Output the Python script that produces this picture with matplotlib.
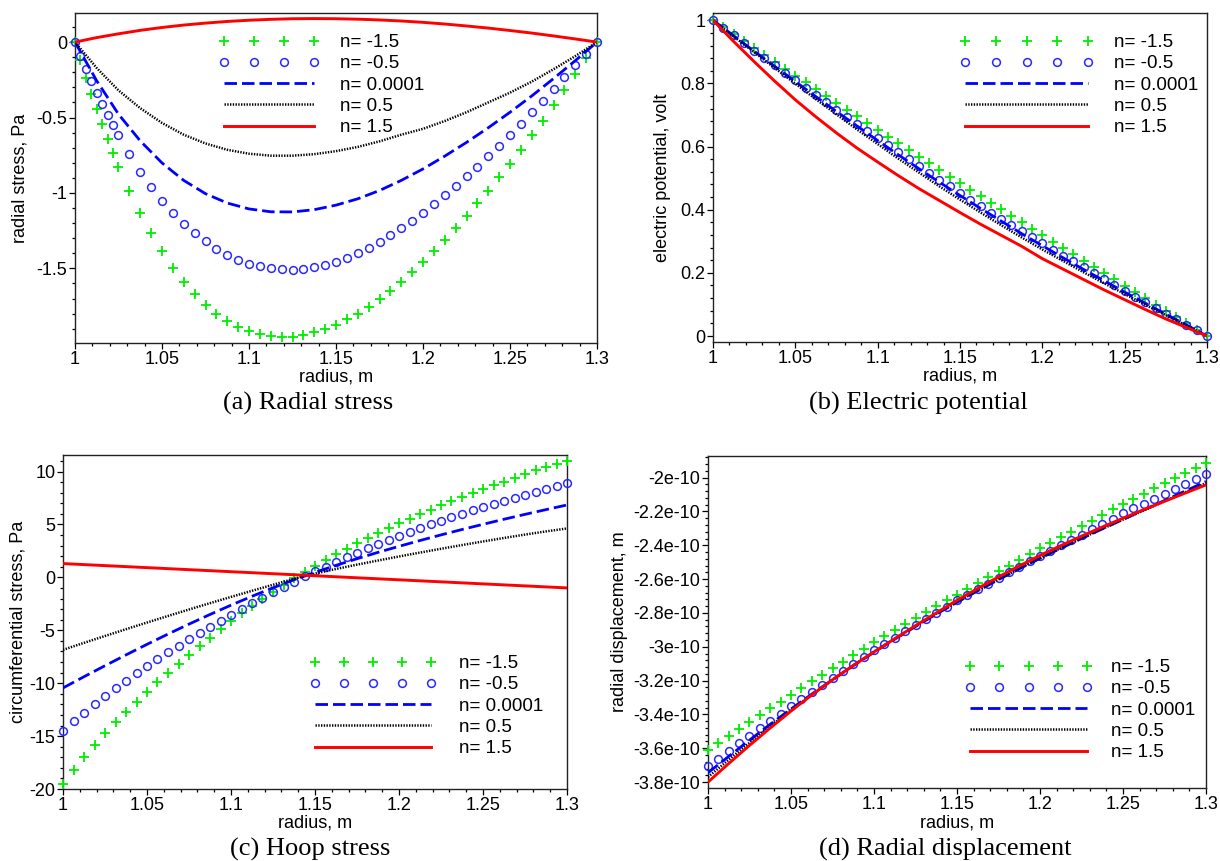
import numpy as np
import matplotlib
matplotlib.use("Agg")
import matplotlib.pyplot as plt
from matplotlib.ticker import MultipleLocator, FixedLocator, FuncFormatter

plt.rcParams["font.family"] = ["Liberation Sans", "DejaVu Sans"]

# ---------------------------------------------------------------- data
# radius sample points (m)
radius_marks = np.linspace(1.0, 1.3, 49)
radius_marks_a = np.concatenate([np.linspace(1.0, 1.025, 9), np.linspace(1.03125, 1.3, 44)])
radius_curve = np.linspace(1.0, 1.3, 25)

legend_labels = ["n= -1.5", "n= -0.5", "n= 0.0001", "n= 0.5", "n= 1.5"]

# (a) radial stress, Pa
radial_stress_m15 = [0.0, -0.121, -0.238, -0.345, -0.445, -0.545, -0.640, -0.735, -0.828,
                     -0.990, -1.135, -1.268, -1.388, -1.495, -1.590, -1.670, -1.742, -1.802,
                     -1.849, -1.887, -1.916, -1.937, -1.950, -1.957, -1.952, -1.941, -1.925,
                     -1.902, -1.873, -1.839, -1.800, -1.755, -1.705, -1.650, -1.590, -1.525,
                     -1.457, -1.385, -1.310, -1.233, -1.153, -1.070, -0.985, -0.897, -0.806,
                     -0.713, -0.618, -0.520, -0.420, -0.318, -0.214, -0.108, 0.0]
radial_stress_m05 = [0.0, -0.090, -0.177, -0.258, -0.336, -0.411, -0.483, -0.552, -0.618,
                     -0.745, -0.858, -0.960, -1.051, -1.132, -1.204, -1.267, -1.322, -1.369,
                     -1.409, -1.442, -1.468, -1.487, -1.500, -1.507, -1.508, -1.503, -1.492,
                     -1.476, -1.455, -1.429, -1.399, -1.364, -1.325, -1.282, -1.235, -1.185,
                     -1.132, -1.076, -1.017, -0.955, -0.891, -0.825, -0.757, -0.687, -0.615,
                     -0.541, -0.465, -0.388, -0.310, -0.232, -0.155, -0.078, 0.0]
radial_stress_0 = [0.0, -0.257, -0.478, -0.655, -0.801, -0.917, -1.005, -1.067, -1.106,
                   -1.125, -1.126, -1.111, -1.081, -1.039, -0.984, -0.917, -0.841, -0.756,
                   -0.665, -0.568, -0.465, -0.357, -0.242, -0.123, 0.0]
radial_stress_p05 = [0.0, -0.172, -0.320, -0.438, -0.536, -0.614, -0.672, -0.714, -0.740,
                     -0.753, -0.753, -0.743, -0.723, -0.695, -0.658, -0.614, -0.575, -0.523,
                     -0.465, -0.400, -0.335, -0.262, -0.180, -0.093, 0.0]
radial_stress_p15 = [0.0, 0.030, 0.055, 0.078, 0.097, 0.113, 0.126, 0.137, 0.145, 0.151,
                     0.155, 0.156, 0.155, 0.152, 0.147, 0.140, 0.131, 0.120, 0.107, 0.093,
                     0.077, 0.060, 0.041, 0.021, 0.0]

# (b) electric potential, volt
potential_m15 = [1.000, 0.978, 0.956, 0.934, 0.913, 0.891, 0.869, 0.847, 0.825, 0.804,
                 0.782, 0.760, 0.739, 0.717, 0.696, 0.674, 0.653, 0.631, 0.610, 0.589,
                 0.568, 0.547, 0.526, 0.505, 0.484, 0.463, 0.442, 0.422, 0.401, 0.381,
                 0.360, 0.340, 0.319, 0.299, 0.279, 0.259, 0.239, 0.219, 0.199, 0.179,
                 0.159, 0.139, 0.119, 0.099, 0.079, 0.059, 0.040, 0.020, 0.000]
potential_m05 = [1.000, 0.976, 0.952, 0.928, 0.904, 0.881, 0.857, 0.833, 0.810, 0.786,
                 0.763, 0.740, 0.717, 0.694, 0.671, 0.648, 0.626, 0.604, 0.582, 0.560,
                 0.538, 0.516, 0.495, 0.474, 0.453, 0.432, 0.412, 0.391, 0.371, 0.351,
                 0.332, 0.312, 0.293, 0.273, 0.254, 0.236, 0.217, 0.198, 0.180, 0.161,
                 0.143, 0.125, 0.107, 0.089, 0.071, 0.053, 0.036, 0.018, 0.000]
potential_0 = [1.000, 0.951, 0.902, 0.854, 0.806, 0.758, 0.711, 0.665, 0.619, 0.574, 0.530,
               0.487, 0.445, 0.404, 0.364, 0.324, 0.286, 0.248, 0.211, 0.175, 0.139, 0.104,
               0.069, 0.035, 0.000]
potential_p05 = [1.000, 0.949, 0.899, 0.849, 0.799, 0.750, 0.702, 0.654, 0.608, 0.562, 0.518,
                 0.474, 0.432, 0.391, 0.351, 0.312, 0.274, 0.238, 0.202, 0.167, 0.133, 0.099,
                 0.066, 0.033, 0.000]
potential_p15 = [1.000, 0.933, 0.869, 0.807, 0.748, 0.694, 0.643, 0.595, 0.551, 0.508, 0.467,
                 0.429, 0.391, 0.354, 0.319, 0.284, 0.245, 0.212, 0.179, 0.146, 0.115, 0.084,
                 0.054, 0.027, 0.000]

# (c) circumferential (hoop) stress, Pa
hoop_m15 = [-19.5, -18.2, -17.0, -15.85, -14.75, -13.7, -12.7, -11.75, -10.8, -9.9,
            -9.0, -8.15, -7.3, -6.5, -5.7, -4.9, -4.15, -3.4, -2.7, -2.0,
            -1.35, -0.7, -0.1, 0.5, 1.1, 1.65, 2.2, 2.7, 3.2, 3.7,
            4.2, 4.65, 5.1, 5.55, 6.0, 6.4, 6.8, 7.2, 7.6, 8.0,
            8.35, 8.7, 9.05, 9.4, 9.75, 10.1, 10.4, 10.7, 11.0]
hoop_m05 = [-14.5, -13.62, -12.8, -12.0, -11.23, -10.5, -9.78, -9.08, -8.4, -7.73,
            -7.08, -6.45, -5.83, -5.23, -4.65, -4.08, -3.52, -2.98, -2.45, -1.93,
            -1.42, -0.92, -0.41, 0.1, 0.56, 1.02, 1.47, 1.9, 2.32, 2.73,
            3.13, 3.53, 3.92, 4.3, 4.67, 5.02, 5.35, 5.68, 6.0, 6.32,
            6.63, 6.93, 7.23, 7.52, 7.8, 8.08, 8.35, 8.62, 8.88]
hoop_0 = [-10.45, -9.39, -8.35, -7.33, -6.33, -5.36, -4.42, -3.51, -2.63, -1.79, -0.99,
          -0.23, 0.47, 1.13, 1.76, 2.36, 2.93, 3.48, 4.01, 4.52, 5.01, 5.49, 5.95, 6.40, 6.84]
hoop_p05 = [-6.85, -6.19, -5.54, -4.90, -4.27, -3.65, -3.04, -2.44, -1.85, -1.27, -0.70,
            -0.14, 0.36, 0.79, 1.20, 1.59, 1.97, 2.34, 2.70, 3.05, 3.39, 3.72, 4.04, 4.34, 4.62]
hoop_p15 = [1.30, 1.204, 1.108, 1.013, 0.917, 0.821, 0.725, 0.629, 0.533, 0.438, 0.342,
            0.246, 0.150, 0.054, -0.042, -0.138, -0.233, -0.329, -0.425, -0.521, -0.617,
            -0.713, -0.808, -0.904, -1.000]

# (d) radial displacement, units of 1e-10 m
disp_m15 = [-3.612, -3.570, -3.528, -3.486, -3.445, -3.404, -3.364, -3.324, -3.284,
            -3.244, -3.204, -3.165, -3.126, -3.088, -3.049, -3.011, -2.973,
            -2.936, -2.900, -2.865, -2.830, -2.795, -2.760, -2.726, -2.692,
            -2.657, -2.623, -2.588, -2.554, -2.520, -2.486, -2.452, -2.418,
            -2.385, -2.352, -2.319, -2.287, -2.254, -2.221, -2.188, -2.156,
            -2.125, -2.095, -2.064, -2.033, -2.003, -1.972, -1.941, -1.911]
disp_m05 = [-3.707, -3.661, -3.616, -3.571, -3.526, -3.482, -3.438, -3.395, -3.352,
            -3.310, -3.268, -3.226, -3.184, -3.143, -3.102, -3.062, -3.022,
            -2.984, -2.946, -2.908, -2.871, -2.835, -2.799, -2.762, -2.726,
            -2.693, -2.659, -2.626, -2.593, -2.560, -2.528, -2.495, -2.463,
            -2.432, -2.400, -2.369, -2.337, -2.306, -2.274, -2.243, -2.211,
            -2.182, -2.153, -2.124, -2.095, -2.066, -2.037, -2.007, -1.978]
disp_0 = [-3.745, -3.648, -3.552, -3.458, -3.368, -3.280, -3.195, -3.112, -3.032, -2.955,
          -2.880, -2.807, -2.737, -2.669, -2.603, -2.539, -2.477, -2.418, -2.360, -2.303,
          -2.247, -2.191, -2.135, -2.079, -2.023]
disp_p05 = [-3.770, -3.668, -3.568, -3.470, -3.375, -3.284, -3.196, -3.111, -3.030, -2.953,
            -2.878, -2.805, -2.735, -2.667, -2.601, -2.538, -2.476, -2.417, -2.359, -2.303,
            -2.248, -2.194, -2.140, -2.086, -2.032]
disp_p15 = [-3.800, -3.690, -3.583, -3.480, -3.380, -3.285, -3.195, -3.110, -3.030, -2.952,
            -2.875, -2.800, -2.725, -2.655, -2.587, -2.522, -2.460, -2.402, -2.346, -2.292,
            -2.240, -2.189, -2.140, -2.091, -2.043]
disp_scale = 1e-10

# ---------------------------------------------------------------- styling
GREEN = "#00ee00"
BLUE_MARK = "#2a2aff"
BLUE = "#0000ff"
RED = "#ff0000"
W, H = 1220, 861
TICK_FS = 13
LABEL_FS = 13
LEGEND_FS = 13.5
CAPTION_FS = 19


def px_rect(l, t, r, b):
    return [l / W, 1 - b / H, (r - l) / W, (b - t) / H]


def plain_fmt(v, pos):
    s = f"{v:.6g}"
    return "0" if s == "-0" else s


def e10_fmt(v, pos):
    s = f"{v / disp_scale:.6g}"
    return "0" if s in ("0", "-0") else s + "e-10"


panels = [
    dict(rect=(75, 13, 597, 343), marks_x=radius_marks_a,
         series=(radial_stress_m15, radial_stress_m05, radial_stress_0, radial_stress_p05, radial_stress_p15),
         scale=1.0, ylim=(-1.995, 0.193), ymajor=[-1.5, -1.0, -0.5, 0.0], yminor=0.1, fmt=plain_fmt,
         ylabel="radial stress, Pa", ylabel_x=20, xlabel_y=377,
         caption="(a) Radial stress", cap_xy=(308, 403),
         leg=dict(x=218, top=34, length=102, text=340, npts=4)),
    dict(rect=(713, 13, 1207, 342), marks_x=radius_marks,
         series=(potential_m15, potential_m05, potential_0, potential_p05, potential_p15),
         scale=1.0, ylim=(-0.019, 1.023), ymajor=[0, 0.2, 0.4, 0.6, 0.8, 1.0], yminor=0.04, fmt=plain_fmt,
         ylabel="electric potential, volt", ylabel_x=663, xlabel_y=376,
         caption="(b) Electric potential", cap_xy=(918, 403),
         leg=dict(x=959, top=34, length=135, text=1114, npts=5)),
    dict(rect=(63, 455, 567, 789), marks_x=radius_marks,
         series=(hoop_m15, hoop_m05, hoop_0, hoop_p05, hoop_p15),
         scale=1.0, ylim=(-20.0, 11.56), ymajor=[-20, -15, -10, -5, 0, 5, 10], yminor=1.0, fmt=plain_fmt,
         ylabel="circumferential stress, Pa", ylabel_x=18, xlabel_y=823,
         caption="(c) Hoop stress", cap_xy=(310, 849),
         leg=dict(x=309, top=655, length=128, text=459, npts=5)),
    dict(rect=(708, 456, 1206, 788), marks_x=radius_marks,
         series=(disp_m15, disp_m05, disp_0, disp_p05, disp_p15),
         scale=disp_scale, ylim=(-3.835e-10, -1.872e-10),
         ymajor=[v * 1e-10 for v in (-3.8, -3.6, -3.4, -3.2, -3.0, -2.8, -2.6, -2.4, -2.2, -2.0)],
         yminor=0.04e-10, fmt=e10_fmt,
         ylabel="radial displacement, m", ylabel_x=620, xlabel_y=823,
         caption="(d) Radial displacement", cap_xy=(945, 849),
         leg=dict(x=964, top=659, length=129, text=1111, npts=5)),
]

fig = plt.figure(figsize=(W / 100, H / 100), dpi=100)
fig.patch.set_facecolor("white")

for p in panels:
    l, t, r, b = p["rect"]
    ax = fig.add_axes(px_rect(l, t, r, b))
    s = p["scale"]
    m15, m05, n0, p05, p15 = [np.asarray(v) * s for v in p["series"]]

    h1, = ax.plot(p["marks_x"], m15, ls="none", marker="+", ms=7.5, mew=1.3,
                  color=GREEN, clip_on=False, zorder=3)
    h2, = ax.plot(p["marks_x"], m05, ls="none", marker="o", ms=5.6, mfc="none", mew=1.1,
                  color=BLUE_MARK, clip_on=False, zorder=3)
    h3, = ax.plot(radius_curve, n0, color=BLUE, lw=2.0, dashes=(4.5, 1.8), zorder=4)
    h4, = ax.plot(radius_curve, p05, color="black", lw=1.8, dashes=(0.55, 0.55), zorder=4)
    h5, = ax.plot(radius_curve, p15, color=RED, lw=2.1, zorder=4)

    ax.set_xlim(1.0, 1.3)
    ax.set_ylim(*p["ylim"])
    ax.xaxis.set_major_locator(MultipleLocator(0.05))
    ax.xaxis.set_minor_locator(MultipleLocator(0.01))
    ax.xaxis.set_major_formatter(FuncFormatter(plain_fmt))
    ax.yaxis.set_major_locator(FixedLocator(p["ymajor"]))
    ax.yaxis.set_minor_locator(MultipleLocator(p["yminor"]))
    ax.yaxis.set_major_formatter(FuncFormatter(p["fmt"]))
    ax.tick_params(which="both", direction="out", top=False, right=False,
                   labelsize=TICK_FS, pad=1.5, width=0.9, color="black")
    ax.tick_params(which="major", length=4.0)
    ax.tick_params(which="minor", length=2.5)
    for sp in ax.spines.values():
        sp.set_linewidth(1.0)
        sp.set_color("#222222")

    ax.set_xlabel("radius, m", fontsize=LABEL_FS)
    ax.xaxis.label.set_verticalalignment("center")
    ax.xaxis.set_label_coords(0.5, (b - p["xlabel_y"]) / (b - t))
    ax.set_ylabel(p["ylabel"], fontsize=LABEL_FS)
    ax.yaxis.label.set_verticalalignment("center")
    ax.yaxis.set_label_coords((p["ylabel_x"] - l) / (r - l), 0.5)

    lg = p["leg"]
    fs_px = LEGEND_FS * 100 / 72
    ax.legend([h1, h2, h3, h4, h5], legend_labels, loc="upper left",
              bbox_to_anchor=((lg["x"] - l) / (r - l), (b - lg["top"]) / (b - t)),
              numpoints=lg["npts"], handlelength=lg["length"] / fs_px,
              handletextpad=(lg["text"] - lg["x"] - lg["length"]) / fs_px,
              labelspacing=0.22, frameon=False, borderpad=0, borderaxespad=0,
              fontsize=LEGEND_FS)

    cx, cy = p["cap_xy"]
    fig.text(cx / W, 1 - cy / H, p["caption"], ha="center", va="center",
             fontsize=CAPTION_FS, family="Liberation Serif")

fig.savefig("out.png", dpi=100, facecolor="white")
